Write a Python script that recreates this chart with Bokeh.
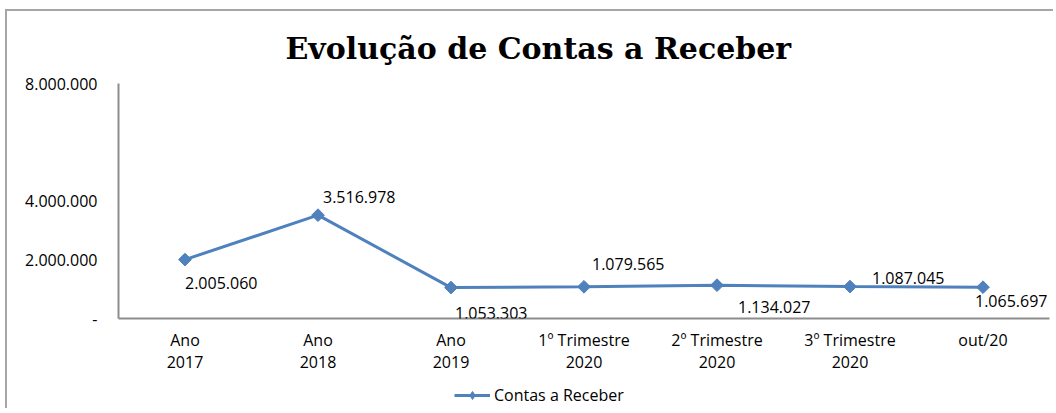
import math
from bokeh.plotting import figure
from bokeh.layouts import column
from bokeh.models import (FixedTicker, LabelSet, ColumnDataSource, Legend,
                          LegendItem, Range1d, Title)
from bokeh.core.properties import value
from bokeh.embed import file_html
from bokeh.resources import INLINE

# ---- data ----
categories = ["Ano\n2017", "Ano\n2018", "Ano\n2019", "1º Trimestre\n2020",
              "2º Trimestre\n2020", "3º Trimestre\n2020", "out/20"]
values = [2005060, 3516978, 1053303, 1079565, 1134027, 1087045, 1065697]
y_ticks = [0, 2000000, 4000000, 8000000]
y_tick_labels = ["-", "2.000.000", "4.000.000", "8.000.000"]
y_max = 8000000
series_name = "Contas a Receber"
title_text = "Evolução de Contas a Receber"

# ---- style (label placement offsets in px) ----
lbl_dx = [0, 5, 4, 8, 21, 22, -8]
lbl_dy = [-23, 18, -25, 23, -22, 9, -14]

BLUE = "#4F81BD"
AXIS_GRAY = "#8C8C8C"
FONT = "Open Sans"
W = 1046

xs = list(range(len(categories)))
src = ColumnDataSource(dict(
    x=xs, y=values,
    txt=[f"{v:,}".replace(",", ".") for v in values],
    dx=lbl_dx, dy=lbl_dy,
))

p = figure(width=W, height=369, output_backend="svg", toolbar_location=None,
           x_range=Range1d(-0.5, len(categories) - 0.5),
           y_range=Range1d(0, y_max),
           min_border_left=111, min_border_right=4,
           min_border_top=67, min_border_bottom=62)
p.outline_line_color = None
p.xgrid.grid_line_color = None
p.ygrid.grid_line_color = None

# title
p.title = Title(text=title_text, align="left", offset=167, standoff=35,
                text_font="DejaVu Serif", text_font_style="bold",
                text_font_size="30px", text_color="black")

# axes
p.xaxis.ticker = FixedTicker(ticks=xs)
p.xaxis.major_label_overrides = {i: c for i, c in zip(xs, categories)}
p.xaxis.major_tick_line_color = None
p.xaxis.minor_tick_line_color = None
p.xaxis.axis_line_color = AXIS_GRAY
p.xaxis.axis_line_width = 2
p.xaxis.major_label_text_font = FONT
p.xaxis.major_label_text_font_size = "16px"
p.xaxis.major_label_text_color = "black"
p.xaxis.major_label_text_line_height = 1.0
p.xaxis.major_label_standoff = 4

p.yaxis.ticker = FixedTicker(ticks=y_ticks)
p.yaxis.major_label_overrides = {t: l for t, l in zip(y_ticks, y_tick_labels)}
p.yaxis.major_tick_line_color = None
p.yaxis.minor_tick_line_color = None
p.yaxis.axis_line_color = AXIS_GRAY
p.yaxis.axis_line_width = 2
p.yaxis.major_label_text_font = FONT
p.yaxis.major_label_text_font_size = "16px"
p.yaxis.major_label_text_color = "black"
p.yaxis.major_label_standoff = 15

# series
ln = p.line("x", "y", source=src, line_color=BLUE, line_width=3)
mk = p.scatter("x", "y", source=src, marker="square", size=9, angle=math.pi / 4,
               fill_color=BLUE, line_color=BLUE)

p.add_layout(LabelSet(x="x", y="y", text="txt", source=src,
                      x_offset="dx", y_offset="dy",
                      text_align="left", text_baseline="middle",
                      text_font=value(FONT), text_font_size="16px", text_color="black"))

# legend strip: a small figure whose view range excludes the data, holding only the key
lf = figure(width=W, height=28, output_backend="svg", toolbar_location=None,
            x_range=Range1d(100, 101), y_range=Range1d(1e9, 2e9),
            x_axis_location=None, y_axis_location=None,
            min_border_left=0, min_border_right=0, min_border_top=0, min_border_bottom=0)
lf.outline_line_color = None
lf.xgrid.grid_line_color = None
lf.ygrid.grid_line_color = None
k_ln = lf.line("x", "y", source=src, line_color=BLUE, line_width=3)
k_mk = lf.scatter("x", "y", source=src, marker="diamond", size=14,
                  fill_color=BLUE, line_color=BLUE)
legend = Legend(items=[LegendItem(label=series_name, renderers=[k_ln, k_mk])],
                location=(336, 2), orientation="horizontal",
                label_text_font=FONT, label_text_font_size="16px",
                label_text_color="black", label_standoff=4,
                border_line_color=None, background_fill_alpha=0,
                glyph_width=36, padding=0, margin=0, spacing=0)
lf.add_layout(legend, "center")

layout = column(p, lf, spacing=0,
                styles={"margin-left": "5px", "margin-top": "9px",
                        "border-left": "2px solid #A6A6A6",
                        "border-top": "2px solid #A6A6A6"})

open("out.html", "w").write(file_html(layout, INLINE))
